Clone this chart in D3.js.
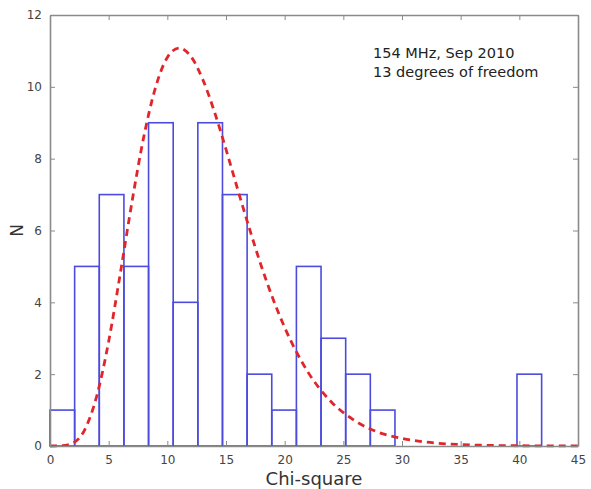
<!DOCTYPE html>
<html>
<head>
<meta charset="utf-8">
<script src="https://cdn.jsdelivr.net/npm/d3@7"></script>
<style>
  body { margin: 0; background: #fff; }
  text { font-family: "DejaVu Sans", sans-serif; }
</style>
</head>
<body>
<script>
//Width and height
var margin = {top: 15, right: 13, bottom: 43, left: 50};
var width = 591 - margin.left - margin.right;
var height = 489 - margin.top - margin.bottom;

// histogram bin edges and counts
var binEdges = [0, 2.1, 4.2, 6.3, 8.4, 10.5, 12.6, 14.7, 16.8, 18.9, 21, 23.1, 25.2, 27.3, 29.4, 31.5, 33.6, 35.7, 37.8, 39.8, 41.9];
var counts = [1, 5, 7, 5, 9, 4, 9, 7, 2, 1, 5, 3, 2, 1, 0, 0, 0, 0, 0, 2];

// red dashed curve
var curveX = [0, 1, 2, 3, 4, 5, 6, 7, 8, 9, 10, 11, 12, 13, 14, 15, 16, 17, 18, 19, 20, 22, 24, 26, 28, 30, 32, 35, 38, 41, 45];
var curveY = [0, 0.01, 0.09, 0.48, 1.41, 2.91, 4.82, 6.82, 8.62, 9.99, 10.82, 11.08, 10.85, 10.22, 9.32, 8.26, 7.14, 6.05, 5.02, 4.1, 3.3, 2.05, 1.22, 0.7, 0.38, 0.21, 0.11, 0.04, 0.014, 0.005, 0.001];

var xTicks = [0, 5, 10, 15, 20, 25, 30, 35, 40, 45];
var yTicks = [0, 2, 4, 6, 8, 10, 12];
var notes = ["154 MHz, Sep 2010", "13 degrees of freedom"];

var svg = d3.select("body").append("svg")
    .attr("width", 591)
    .attr("height", 489)
  .append("g")
    .attr("transform", "translate(" + margin.left + "," + margin.top + ")");

var xScale = d3.scaleLinear().domain([0, 45]).range([0, width]);
var yScale = d3.scaleLinear().domain([0, 12]).range([height, 0]);

//bars
var bins = counts.map(function(c, i) { return {x0: binEdges[i], x1: binEdges[i + 1], n: c}; });
svg.append("g").selectAll("rect")
    .data(bins.filter(function(d) { return d.n > 0; }))
    .enter()
    .append("rect")
    .attr("x", function(d) { return xScale(d.x0); })
    .attr("y", function(d) { return yScale(d.n); })
    .attr("width", function(d) { return xScale(d.x1) - xScale(d.x0); })
    .attr("height", function(d) { return yScale(0) - yScale(d.n); })
    .attr("fill", "none")
    .attr("stroke", "#4b4bdf")
    .attr("stroke-width", 1.6);

//curve
var line = d3.line()
    .x(function(d) { return xScale(d[0]); })
    .y(function(d) { return yScale(d[1]); })
    .curve(d3.curveMonotoneX);
svg.append("path")
    .datum(curveX.map(function(x, i) { return [x, curveY[i]]; }))
    .attr("d", line)
    .attr("fill", "none")
    .attr("stroke", "#e0262b")
    .attr("stroke-width", 2.8)
    .attr("stroke-dasharray", "7,5");

//axes, ticks inside like matplotlib
var xAxis = d3.axisBottom(xScale).tickValues(xTicks).tickSizeInner(-5).tickSizeOuter(0).tickPadding(9);
var yAxis = d3.axisLeft(yScale).tickValues(yTicks).tickSizeInner(-5).tickSizeOuter(0).tickPadding(8);
var xTop = d3.axisTop(xScale).tickValues(xTicks).tickSizeInner(-5).tickSizeOuter(0).tickFormat("");
var yRight = d3.axisRight(yScale).tickValues(yTicks).tickSizeInner(-5).tickSizeOuter(0).tickFormat("");

svg.append("g").attr("class", "axis").attr("transform", "translate(0," + height + ")").call(xAxis);
svg.append("g").attr("class", "axis").call(yAxis);
svg.append("g").attr("class", "axis").call(xTop);
svg.append("g").attr("class", "axis").attr("transform", "translate(" + width + ",0)").call(yRight);

svg.selectAll(".axis path").attr("stroke", "#8a8a8a").attr("stroke-width", 1.6);
svg.selectAll(".axis line").attr("stroke", "#8a8a8a").attr("stroke-width", 1);
svg.selectAll(".axis text").attr("font-size", 12).attr("fill", "#444");

//labels
svg.append("text")
    .attr("x", width / 2)
    .attr("y", height + 39)
    .attr("text-anchor", "middle")
    .attr("font-size", 18)
    .attr("fill", "#333")
    .text("Chi-square");

svg.append("text")
    .attr("transform", "translate(-27," + (height / 2) + ") rotate(-90)")
    .attr("text-anchor", "middle")
    .attr("font-size", 17)
    .attr("fill", "#333")
    .text("N");

svg.selectAll(".note")
    .data(notes)
    .enter()
    .append("text")
    .attr("class", "note")
    .attr("x", 323)
    .attr("y", function(d, i) { return 43 + i * 19; })
    .attr("font-size", 14.5)
    .attr("fill", "#222")
    .text(function(d) { return d; });
</script>
</body>
</html>
